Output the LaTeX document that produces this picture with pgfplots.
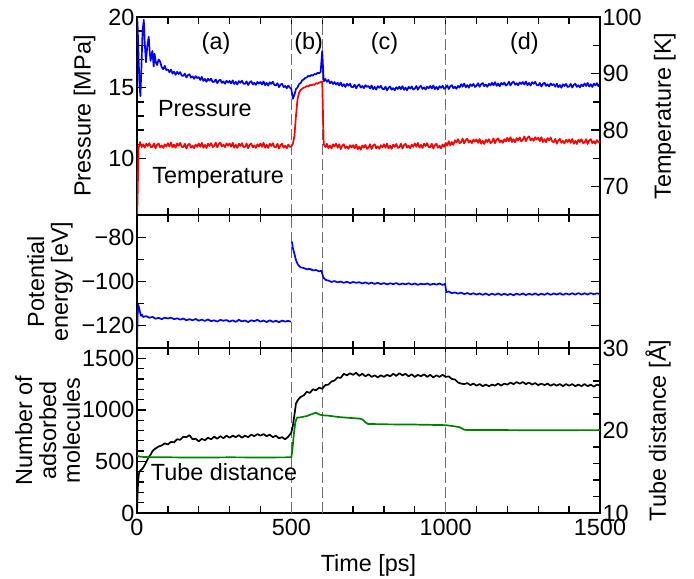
\documentclass[border=0pt]{standalone}
\usepackage{fontspec}
\setmainfont{Liberation Sans}
\usepackage{pgfplots}
\pgfplotsset{compat=1.18}

\definecolor{pblue}{RGB}{0,0,255}
\definecolor{tred}{RGB}{255,0,0}
\definecolor{dgreen}{RGB}{0,128,0}
\definecolor{dashgray}{RGB}{110,110,110}

\newcommand\figfont{\fontsize{23.5}{24}\selectfont}

\pgfplotsset{
  panel/.style={
    scale only axis, width=463bp,
    xmin=0, xmax=1500,
    xtick={0,500,1000,1500}, minor x tick num=4,
    tick align=inside,
    major tick length=9bp, minor tick length=7bp,
    axis line style={line width=1.6bp},
    every tick/.style={black, line width=1.3bp},
    /pgf/number format/assume math mode=true,
    /pgf/number format/1000 sep={},
    every tick label/.append style={font=\figfont},
    yticklabel style={inner sep=2.5bp},
    xticklabel style={inner sep=6bp},
    label style={font=\figfont},
  },
  vline/.style={dashgray, line width=1.1bp, dash pattern=on 11bp off 4bp, forget plot},
  data/.style={line width=1.7bp, no marks, line join=round},
}

\begin{document}
\figfont
\begin{tikzpicture}
\path[use as bounding box] (0bp,0bp) rectangle (694bp,-579bp);

% ---- top panel: pressure (left)
\begin{axis}[panel, at={(137bp,-215bp)}, anchor=south west, height=198bp,
  ymin=6, ymax=20, ytick={10,15,20}, minor y tick num=4,
  ytick pos=left, xticklabels={},
  ylabel={Pressure [MPa]},
  ylabel style={at={(axis description cs:-0.1004,0.5)}, anchor=base},
]
\addplot[vline] coordinates {(500,6) (500,20)};
\addplot[vline] coordinates {(600,6) (600,20)};
\addplot[vline] coordinates {(1000,6) (1000,20)};
\addplot[data, pblue] coordinates {
(0,20.2) (2,19.4) (5,17.2) (8,15.2) (11,14.4) (14,16.2) (18,19.0) (22,19.8)
(25,18.2) (29,16.8) (33,17.9) (38,18.6) (41,17.6) (44,16.9) (47,17.3) (50,17.6)
(54,16.5) (57,17.4) (61,16.8) (65,16.6) (70,17.0) (75,16.85) (80,16.45) (85,16.3)
(90,16.55) (95,16.25) (100,16.30)};
\addplot[data, pblue] table[header=false, row sep=\\, x expr=100+\coordindex*5, y index=0] {
16.30\\16.09\\16.28\\16.00\\16.13\\15.91\\16.12\\15.97\\16.10\\15.85\\
15.84\\16.00\\15.72\\15.89\\15.95\\15.71\\15.80\\15.63\\15.82\\15.68\\
15.75\\15.55\\15.76\\15.48\\15.62\\15.42\\15.64\\15.50\\15.64\\15.40\\
15.42\\15.59\\15.32\\15.50\\15.57\\15.34\\15.44\\15.28\\15.49\\15.36\\
15.48\\15.30\\15.52\\15.26\\15.42\\15.23\\15.47\\15.35\\15.50\\15.28\\
15.27\\15.45\\15.19\\15.38\\15.46\\15.24\\15.35\\15.20\\15.41\\15.29\\
15.40\\15.22\\15.44\\15.18\\15.34\\15.15\\15.39\\15.27\\15.42\\15.20\\
15.16\\15.32\\15.04\\15.22\\15.28\\15.04\\15.13\\14.96\\15.15\\15.01\\
14.90\\14.22\\14.50\\14.90\\15.02\\15.25\\15.33\\15.52\\15.58\\15.70\\
15.72\\15.85\\15.80\\15.90\\15.86\\15.97\\15.95\\16.06\\16.02\\16.12\\
17.60\\15.45\\15.62\\15.42\\15.55\\15.32\\15.44\\15.26\\15.40\\15.22\\
15.35\\15.16\\15.37\\15.11\\15.25\\15.05\\15.28\\15.15\\15.28\\15.05\\
15.04\\15.22\\14.96\\15.15\\15.23\\15.01\\15.12\\14.97\\15.18\\15.06\\
15.12\\14.94\\15.16\\14.90\\15.06\\14.87\\15.11\\14.99\\15.14\\14.92\\
14.89\\15.07\\14.81\\15.00\\15.08\\14.86\\14.97\\14.82\\15.03\\14.91\\
15.07\\14.89\\15.11\\14.85\\15.01\\14.82\\15.06\\14.94\\15.09\\14.87\\
14.94\\15.12\\14.86\\15.05\\15.13\\14.91\\15.02\\14.87\\15.08\\14.96\\
15.12\\14.94\\15.16\\14.90\\15.06\\14.87\\15.11\\14.99\\15.14\\14.92\\
14.99\\15.17\\14.91\\15.10\\15.18\\14.96\\15.07\\14.92\\15.13\\15.01\\
15.25\\15.07\\15.29\\15.03\\15.19\\15.00\\15.24\\15.12\\15.27\\15.05\\
15.14\\15.32\\15.06\\15.25\\15.33\\15.11\\15.22\\15.07\\15.28\\15.16\\
15.35\\15.17\\15.39\\15.13\\15.29\\15.10\\15.34\\15.22\\15.37\\15.15\\
15.24\\15.42\\15.16\\15.35\\15.43\\15.21\\15.32\\15.17\\15.38\\15.26\\
15.40\\15.22\\15.44\\15.18\\15.34\\15.15\\15.39\\15.27\\15.42\\15.20\\
15.16\\15.34\\15.08\\15.27\\15.35\\15.13\\15.24\\15.09\\15.30\\15.18\\
15.25\\15.07\\15.29\\15.03\\15.19\\15.00\\15.24\\15.12\\15.27\\15.05\\
15.09\\15.27\\15.01\\15.20\\15.28\\15.06\\15.17\\15.02\\15.23\\15.11\\
15.30\\15.12\\15.34\\15.08\\15.24\\15.05\\15.29\\15.17\\15.32\\15.10\\
15.30\\
};
\node[anchor=center] at (axis cs:256,18.16) {(a)};
\node[anchor=center] at (axis cs:556,18.16) {(b)};
\node[anchor=center] at (axis cs:802,18.16) {(c)};
\node[anchor=center] at (axis cs:1255,18.16) {(d)};
\node[anchor=base] at (axis cs:220,12.95) {Pressure};
\node[anchor=base] at (axis cs:263,8.24) {Temperature};
\end{axis}

% ---- top panel: temperature (right)
\begin{axis}[panel, at={(137bp,-215bp)}, anchor=south west, height=198bp,
  ymin=65, ymax=100, ytick={70,80,90,100}, minor y tick num=1,
  axis x line=none, axis y line*=right,
  ylabel={Temperature [K]},
  ylabel style={at={(axis description cs:1.1533,0.5)}, anchor=base},
]
\addplot[data, tred] table[header=false, row sep=\\, x expr=\coordindex*5, y index=0] {
63.00\\76.80\\77.90\\77.00\\77.50\\76.90\\77.60\\77.20\\77.70\\77.00\\
77.05\\77.65\\76.80\\77.40\\77.65\\76.95\\77.30\\76.85\\77.50\\77.10\\
77.70\\77.10\\77.80\\76.95\\77.45\\76.90\\77.65\\77.25\\77.75\\77.05\\
77.00\\77.60\\76.75\\77.35\\77.60\\76.90\\77.25\\76.80\\77.45\\77.05\\
77.65\\77.05\\77.75\\76.90\\77.40\\76.85\\77.60\\77.20\\77.70\\77.00\\
77.20\\77.80\\76.95\\77.55\\77.80\\77.10\\77.45\\77.00\\77.65\\77.25\\
77.65\\77.05\\77.75\\76.90\\77.40\\76.85\\77.60\\77.20\\77.70\\77.00\\
77.05\\77.65\\76.80\\77.40\\77.65\\76.95\\77.30\\76.85\\77.50\\77.10\\
77.65\\77.05\\77.75\\76.90\\77.40\\76.85\\77.60\\77.20\\77.70\\77.00\\
77.00\\77.60\\76.75\\77.35\\77.60\\76.90\\77.25\\76.80\\77.45\\77.05\\
77.10\\77.60\\79.00\\82.50\\85.50\\86.60\\87.10\\87.30\\87.50\\87.60\\
87.80\\87.70\\88.00\\87.90\\88.10\\88.00\\88.30\\88.20\\88.40\\88.50\\
88.60\\77.50\\77.00\\77.60\\76.80\\77.30\\76.75\\77.50\\77.10\\77.60\\
76.90\\77.50\\76.65\\77.25\\77.50\\76.80\\77.15\\76.70\\77.35\\76.95\\
77.35\\76.75\\77.45\\76.60\\77.10\\76.55\\77.30\\76.90\\77.40\\76.70\\
76.90\\77.50\\76.65\\77.25\\77.50\\76.80\\77.15\\76.70\\77.35\\76.95\\
77.50\\76.90\\77.60\\76.75\\77.25\\76.70\\77.45\\77.05\\77.55\\76.85\\
77.00\\77.60\\76.75\\77.35\\77.60\\76.90\\77.25\\76.80\\77.45\\77.05\\
77.65\\77.05\\77.75\\76.90\\77.40\\76.85\\77.60\\77.20\\77.70\\77.00\\
77.00\\77.60\\76.75\\77.35\\77.60\\76.90\\77.25\\76.80\\77.45\\77.05\\
77.75\\77.25\\78.05\\77.30\\77.90\\77.40\\78.20\\77.85\\78.40\\77.70\\
77.90\\78.50\\77.65\\78.25\\78.50\\77.80\\78.15\\77.70\\78.35\\77.95\\
78.35\\77.75\\78.45\\77.60\\78.10\\77.55\\78.30\\77.90\\78.40\\77.70\\
77.95\\78.55\\77.70\\78.30\\78.55\\77.85\\78.20\\77.75\\78.40\\78.00\\
78.65\\78.05\\78.75\\77.90\\78.40\\77.85\\78.60\\78.20\\78.70\\78.00\\
78.30\\78.90\\78.05\\78.65\\78.90\\78.20\\78.55\\78.10\\78.75\\78.35\\
78.65\\78.05\\78.75\\77.90\\78.40\\77.85\\78.60\\78.20\\78.70\\78.00\\
77.85\\78.45\\77.60\\78.20\\78.45\\77.75\\78.10\\77.65\\78.30\\77.90\\
78.35\\77.75\\78.45\\77.60\\78.10\\77.55\\78.30\\77.90\\78.40\\77.70\\
77.80\\78.40\\77.55\\78.15\\78.40\\77.70\\78.05\\77.60\\78.25\\77.85\\
78.10\\
};
\end{axis}

% ---- middle panel: potential energy
\begin{axis}[panel, at={(137bp,-348bp)}, anchor=south west, height=133bp,
  ymin=-130, ymax=-70, ytick={-120,-100,-80}, yticklabels={−120,−100,−80},
  minor y tick num=1, yticklabel pos=left, xticklabels={},
  ylabel={Potential\\energy [eV]},
  ylabel style={at={(axis description cs:-0.188,0.5)}, anchor=center, align=center},
]
\addplot[vline] coordinates {(500,-130) (500,-70)};
\addplot[vline] coordinates {(600,-130) (600,-70)};
\addplot[vline] coordinates {(1000,-130) (1000,-70)};
\addplot[data, pblue] coordinates {
(0,-131) (2,-115) (4,-110.5) (7,-112) (10,-114) (13,-115.5) (16,-115) (20,-116)
(30,-115.6) (40,-116.4) (50,-115.9) (60,-116.8) (70,-116.4) (80,-117.0) (90,-116.3)
(100,-116.7) (110,-116.3) (120,-117.0) (130,-116.6) (140,-117.2) (150,-116.7)
(160,-117.5) (170,-117.0) (180,-117.5) (190,-116.9) (200,-117.7) (210,-117.2)
(220,-117.8) (230,-117.1) (240,-117.9) (250,-117.5) (260,-118.1) (270,-117.3)
(280,-117.7) (290,-117.4) (300,-118.1) (310,-117.5) (320,-118.2) (330,-117.3)
(340,-118.0) (350,-117.6) (360,-118.3) (370,-117.5) (380,-117.9) (390,-117.3)
(400,-118.1) (410,-117.6) (420,-118.3) (430,-117.5) (440,-118.2) (450,-117.7)
(460,-118.4) (470,-117.6) (480,-118.1) (490,-117.7) (498,-118.2)};
\addplot[data, pblue] coordinates {
(502,-82) (505,-85) (510,-87.5) (515,-90.3) (520,-92) (525,-93) (530,-93.6)
(540,-93.9) (550,-94.5) (560,-94.3) (570,-95.0) (580,-94.8) (590,-95.4) (598,-95.2)
(602,-97.5) (606,-98.6) (612,-99.3) (620,-99.6) (630,-100.2) (640,-99.8)
(650,-100.4) (660,-100.0) (670,-100.6) (680,-100.1) (690,-100.7) (700,-100.2)
(710,-100.6) (720,-100.3) (730,-100.9) (740,-100.4) (750,-101.0) (760,-100.5)
(770,-101.1) (780,-100.6) (790,-101.2) (800,-100.7) (810,-101.3) (820,-100.8)
(830,-101.2) (840,-100.7) (850,-101.4) (860,-100.9) (870,-101.3) (880,-100.8)
(890,-101.4) (900,-100.9) (910,-101.5) (920,-101.0) (930,-101.3) (940,-100.9)
(950,-101.5) (960,-101.0) (970,-101.4) (980,-100.9) (990,-101.5) (998,-101.1)
(1002,-104.8) (1010,-104.5) (1020,-105.3) (1030,-104.9) (1040,-105.5) (1050,-105.0)
(1060,-105.7) (1070,-105.2) (1080,-105.8) (1090,-105.3) (1100,-105.9) (1110,-105.4)
(1120,-106.0) (1130,-105.4) (1140,-106.1) (1150,-105.5) (1160,-106.0) (1170,-105.4)
(1180,-106.1) (1190,-105.5) (1200,-106.1) (1210,-105.6) (1220,-106.2) (1230,-105.5)
(1240,-106.0) (1250,-105.4) (1260,-106.1) (1270,-105.5) (1280,-106.0) (1290,-105.4)
(1300,-106.1) (1310,-105.5) (1320,-106.0) (1330,-105.3) (1340,-106.0) (1350,-105.4)
(1360,-105.9) (1370,-105.3) (1380,-106.0) (1390,-105.4) (1400,-105.9) (1410,-105.3)
(1420,-105.9) (1430,-105.2) (1440,-105.9) (1450,-105.3) (1460,-105.9) (1470,-105.2)
(1480,-105.8) (1490,-105.3) (1500,-105.7)};
\end{axis}

% ---- bottom panel: adsorbed molecules (left)
\begin{axis}[panel, at={(137bp,-513bp)}, anchor=south west, height=165bp,
  ymin=0, ymax=1600, ytick={0,500,1000,1500},
  minor ytick={100,200,300,400,600,700,800,900,1100,1200,1300,1400,1600},
  ytick pos=left,
  xlabel={Time [ps]},
  xlabel style={at={(axis description cs:0.5,0)}, anchor=base, yshift=-58bp},
  ylabel={Number of\\adsorbed\\molecules},
  ylabel style={at={(axis description cs:-0.193,0.5)}, anchor=center, align=center},
]
\addplot[vline] coordinates {(500,0) (500,1600)};
\addplot[vline] coordinates {(600,0) (600,1600)};
\addplot[vline] coordinates {(1000,0) (1000,1600)};
\addplot[data, black] coordinates {
(0,0) (2,200) (4,320) (6,375) (8,400) (12,415) (16,425) (20,440) (25,465) (30,495)
(35,525) (40,550) (45,570) (50,600) (55,615) (60,625) (70,645) (80,655) (90,675)
(100,665) (110,690) (120,685) (130,715) (140,710) (150,740) (160,735) (170,755)
(180,715) (190,720) (200,695) (210,720) (220,705) (230,730) (240,715) (250,740)
(260,720) (270,745) (280,725) (290,750) (300,730) (310,750) (320,735) (330,755)
(340,730) (350,750) (360,735) (370,760) (380,745) (390,765) (400,750) (410,765)
(420,745) (430,760) (440,735) (450,750) (460,725) (470,735) (480,715) (490,740)
(495,760) (500,780) (505,850) (510,950) (515,1060) (520,1090) (525,1110) (530,1125)
(540,1140) (550,1175) (560,1165) (570,1200) (580,1190) (590,1215) (600,1205)
(610,1240) (620,1245) (630,1275) (640,1285) (650,1315) (660,1310) (670,1350)
(680,1335) (690,1355) (700,1340) (710,1360) (720,1330) (730,1350) (740,1325)
(750,1345) (760,1320) (770,1335) (780,1315) (790,1335) (800,1320) (810,1340)
(820,1325) (830,1350) (840,1330) (850,1355) (860,1335) (870,1350) (880,1325)
(890,1345) (900,1320) (910,1340) (920,1325) (930,1345) (940,1320) (950,1340)
(960,1315) (970,1335) (980,1320) (990,1340) (1000,1320) (1010,1325) (1020,1300)
(1030,1295) (1040,1265) (1050,1255) (1060,1250) (1070,1260) (1080,1240) (1090,1255)
(1100,1235) (1110,1250) (1120,1230) (1130,1245) (1140,1230) (1150,1245) (1160,1235)
(1170,1255) (1180,1235) (1190,1255) (1200,1245) (1210,1265) (1220,1250) (1230,1270)
(1240,1255) (1250,1270) (1260,1250) (1270,1265) (1280,1245) (1290,1260) (1300,1240)
(1310,1255) (1320,1240) (1330,1255) (1340,1235) (1350,1250) (1360,1235) (1370,1250)
(1380,1230) (1390,1250) (1400,1235) (1410,1250) (1420,1230) (1430,1245) (1440,1230)
(1450,1250) (1460,1230) (1470,1245) (1480,1225) (1490,1245) (1500,1235)};
\node[anchor=base] at (axis cs:282,320) {Tube distance};
\end{axis}

% ---- bottom panel: tube distance (right)
\begin{axis}[panel, at={(137bp,-513bp)}, anchor=south west, height=165bp,
  ymin=10, ymax=30, ytick={10,20,30}, minor y tick num=4,
  axis x line=none, axis y line*=right,
  ylabel={Tube distance [Å]},
  ylabel style={at={(axis description cs:1.1425,0.5)}, anchor=base},
]
\addplot[data, dgreen] coordinates {
(0,17.0) (5,16.85) (20,16.8) (50,16.75) (100,16.75) (200,16.72) (300,16.75)
(400,16.73) (500,16.75) (503,17.5) (508,19.5) (513,21.0) (518,21.55) (530,21.6)
(550,21.75) (560,21.9) (575,22.1) (580,22.15) (590,21.95) (600,21.85) (620,21.8)
(650,21.65) (680,21.55) (700,21.5) (720,21.45) (730,21.35) (740,21.0) (748,20.8)
(800,20.75) (900,20.72) (1000,20.65) (1030,20.5) (1045,20.4) (1060,20.1) (1070,20.05)
(1200,20.05) (1300,20.03) (1500,20.05)};
\end{axis}
\end{tikzpicture}
\end{document}
